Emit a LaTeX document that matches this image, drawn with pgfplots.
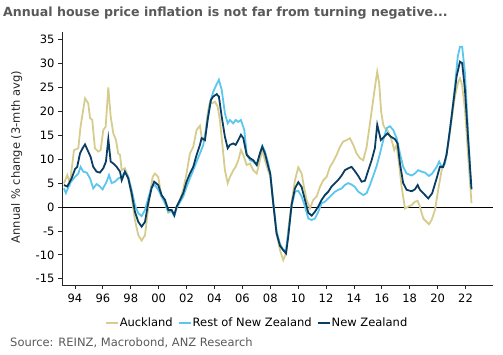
\documentclass[border=0pt]{standalone}
\usepackage{fontspec}
\setmainfont{DejaVu Sans}
\usepackage{pgfplots}
\pgfplotsset{compat=1.18}
\definecolor{akl}{HTML}{D6CC8E}
\definecolor{rnz}{HTML}{5BC6EE}
\definecolor{nz}{HTML}{0B3D63}
\definecolor{ttl}{HTML}{595959}
\begin{document}
\begin{tikzpicture}
\useasboundingbox (-62bp,-70bp) rectangle (441bp,285bp);
\begin{axis}[
  at={(0,0)}, anchor=south west,
  scale only axis, width=431bp, height=253bp,
  xmin=1993.07, xmax=2023.97, ymin=-16.3, ymax=36.6,
  axis x line=bottom, axis y line=left,
  axis line style={-, black!85, line width=0.8bp},
  tick align=outside, major tick length=4bp,
  tick style={black!85, line width=0.8bp},
  xtick={1994,1996,...,2022},
  xticklabels={94,96,98,00,02,04,06,08,10,12,14,16,18,20,22},
  xticklabel style={yshift=-1.5bp},
  ytick={-15,-10,...,35},
  /pgf/number format/assume math mode=true,
  ticklabel style={font=\fontsize{11.5bp}{13bp}\selectfont, text=black},
  legend columns=3,
  legend style={draw=none, fill=none, at={(axis description cs:0.451,-0.149)}, anchor=center,
    font=\fontsize{11.5bp}{13bp}\selectfont, inner sep=0pt,
    nodes={inner sep=0.6bp},
    /tikz/every even column/.append style={column sep=4.5bp}},
  legend image code/.code={\draw[#1] (0bp,0bp) -- (12.5bp,0bp);},
  legend cell align=left,
]
\addplot[black, line width=0.8bp, forget plot] coordinates {(1993.07,0) (2023.97,0)};
\addplot[akl, line width=1.8bp] coordinates {
(1993.21,4.96) (1993.45,6.7) (1993.64,5.0) (1993.93,11.9) (1994.24,12.3) (1994.40,16.8) (1994.72,22.7) (1994.95,21.7) (1995.08,18.6) (1995.24,18.2) (1995.43,12.3) (1995.67,11.6) (1995.84,11.9) (1996.03,16.1) (1996.20,16.8) (1996.39,25.0) (1996.56,18.9) (1996.75,15.4) (1996.94,14.0) (1997.10,11.2) (1997.23,10.9) (1997.35,7.7) (1997.58,8.1) (1997.82,6.3) (1998.06,2.2) (1998.30,-2.7) (1998.54,-5.9) (1998.78,-7.0) (1999.02,-5.9) (1999.18,-2.0) (1999.38,2.9) (1999.57,6.3) (1999.73,7.0) (1999.97,6.3) (2000.21,2.2) (2000.45,1.1) (2000.69,-1.2) (2000.93,-0.8) (2001.12,-1.7) (2001.29,0.0) (2001.53,1.5) (2001.76,3.6) (2002.00,7.0) (2002.24,11.2) (2002.48,12.6) (2002.72,16.1) (2002.96,17.0) (2003.12,14.0) (2003.32,14.7) (2003.51,19.6) (2003.68,22.0) (2003.84,21.7) (2004.04,22.0) (2004.23,21.0) (2004.39,18.2) (2004.56,13.3) (2004.75,7.7) (2004.95,5.0) (2005.11,6.3) (2005.35,7.7) (2005.52,8.4) (2005.71,9.8) (2005.90,11.9) (2006.07,10.9) (2006.31,8.8) (2006.55,9.1) (2006.78,7.7) (2007.03,7.0) (2007.26,9.8) (2007.43,11.9) (2007.62,9.8) (2007.86,7.5) (2008.00,6.5) (2008.20,1.0) (2008.45,-5.5) (2008.70,-9.0) (2008.93,-11.1) (2009.13,-9.7) (2009.29,-4.8) (2009.53,0.8) (2009.77,5.6) (2010.01,8.3) (2010.25,7.0) (2010.42,4.2) (2010.61,1.5) (2010.85,-0.3) (2011.08,1.5) (2011.33,2.2) (2011.56,4.2) (2011.80,5.6) (2012.04,6.3) (2012.28,8.4) (2012.52,9.5) (2012.76,10.9) (2013.00,12.6) (2013.23,13.7) (2013.48,14.0) (2013.71,14.4) (2013.95,13.0) (2014.19,11.2) (2014.43,10.2) (2014.67,9.8) (2014.91,12.6) (2015.15,17.5) (2015.38,22.4) (2015.58,26.6) (2015.67,28.3) (2015.81,25.9) (2015.95,20.0) (2016.10,17.2) (2016.22,16.5) (2016.46,15.8) (2016.70,14.0) (2016.89,11.9) (2017.06,13.0) (2017.23,9.1) (2017.42,4.2) (2017.66,-0.3) (2017.89,0.1) (2018.14,0.4) (2018.37,1.1) (2018.57,1.3) (2018.73,0.1) (2018.97,-2.4) (2019.21,-3.1) (2019.38,-3.6) (2019.57,-2.7) (2019.81,-0.6) (2020.04,3.6) (2020.29,7.7) (2020.52,9.1) (2020.76,13.3) (2021.00,18.2) (2021.24,23.1) (2021.48,26.2) (2021.60,26.9) (2021.76,25.5) (2021.96,20.3) (2022.19,10.5) (2022.43,0.8)
};
\addlegendentry{Auckland}
\addplot[rnz, line width=1.8bp] coordinates {
(1993.21,3.9) (1993.35,2.9) (1993.64,5.0) (1994.00,6.3) (1994.24,7.0) (1994.40,8.4) (1994.60,7.4) (1994.84,7.2) (1995.08,6.0) (1995.31,3.9) (1995.55,4.8) (1995.79,4.3) (1995.98,3.7) (1996.27,5.3) (1996.44,6.7) (1996.63,5.0) (1996.87,5.3) (1997.10,6.0) (1997.35,6.3) (1997.58,7.4) (1997.82,6.3) (1998.06,3.6) (1998.30,0.4) (1998.54,-1.3) (1998.78,-1.9) (1999.02,-0.6) (1999.25,1.8) (1999.49,4.2) (1999.73,4.6) (1999.97,3.6) (2000.21,2.2) (2000.45,0.8) (2000.69,-1.0) (2000.93,-0.8) (2001.12,-1.9) (2001.29,-0.2) (2001.53,1.0) (2001.76,2.2) (2002.00,4.2) (2002.24,6.0) (2002.48,7.7) (2002.72,9.5) (2002.96,11.2) (2003.20,13.0) (2003.44,16.8) (2003.68,21.7) (2003.91,24.1) (2004.16,25.7) (2004.32,26.6) (2004.52,24.5) (2004.75,19.6) (2004.95,17.5) (2005.11,18.2) (2005.35,17.5) (2005.52,18.2) (2005.71,17.8) (2005.90,18.2) (2006.14,16.1) (2006.31,11.2) (2006.55,9.8) (2006.78,9.5) (2007.03,8.8) (2007.26,11.2) (2007.43,12.8) (2007.62,11.6) (2007.86,9.1) (2008.00,7.0) (2008.20,1.5) (2008.45,-5.0) (2008.70,-7.7) (2008.93,-9.0) (2009.13,-9.0) (2009.29,-5.5) (2009.53,0.1) (2009.77,3.2) (2010.01,3.4) (2010.25,2.2) (2010.49,0.1) (2010.73,-2.4) (2010.97,-2.7) (2011.20,-2.4) (2011.44,-1.0) (2011.68,0.8) (2011.92,1.1) (2012.16,1.8) (2012.40,2.5) (2012.64,3.2) (2012.88,3.6) (2013.12,3.9) (2013.35,4.6) (2013.59,5.0) (2013.83,4.7) (2014.07,4.2) (2014.31,3.2) (2014.67,2.5) (2014.91,2.9) (2015.15,4.6) (2015.38,6.5) (2015.62,8.5) (2015.85,11.0) (2016.10,14.0) (2016.35,16.5) (2016.58,16.9) (2016.82,16.1) (2017.06,14.4) (2017.30,11.2) (2017.53,8.4) (2017.78,7.0) (2018.14,6.6) (2018.37,7.0) (2018.61,7.7) (2018.85,7.4) (2019.09,7.2) (2019.38,6.5) (2019.61,7.0) (2019.93,8.4) (2020.11,9.5) (2020.29,8.4) (2020.52,9.1) (2020.76,13.3) (2021.00,18.9) (2021.24,25.2) (2021.44,31.4) (2021.60,33.5) (2021.76,33.5) (2021.96,28.0) (2022.15,17.5) (2022.39,4.2)
};
\addlegendentry{Rest of New Zealand}
\addplot[nz, line width=1.8bp] coordinates {
(1993.21,4.6) (1993.45,4.3) (1993.76,6.0) (1994.00,7.9) (1994.16,8.4) (1994.36,11.2) (1994.55,12.3) (1994.72,13.1) (1994.95,11.6) (1995.12,10.5) (1995.31,8.4) (1995.55,7.4) (1995.79,7.2) (1996.03,8.1) (1996.22,9.5) (1996.39,14.2) (1996.56,9.5) (1996.75,9.1) (1996.99,8.4) (1997.23,7.4) (1997.35,5.6) (1997.58,7.4) (1997.82,6.0) (1998.06,2.9) (1998.30,-1.0) (1998.54,-3.1) (1998.78,-4.1) (1999.02,-3.1) (1999.25,0.8) (1999.49,3.9) (1999.68,5.3) (1999.97,4.6) (2000.21,2.5) (2000.45,1.5) (2000.69,-0.6) (2000.93,-0.6) (2001.12,-1.7) (2001.29,0.1) (2001.53,1.5) (2001.76,2.9) (2002.00,5.3) (2002.24,7.0) (2002.48,8.4) (2002.72,10.9) (2002.96,13.0) (2003.08,14.4) (2003.32,14.0) (2003.51,18.2) (2003.75,22.4) (2003.91,23.1) (2004.16,23.6) (2004.32,23.1) (2004.52,18.9) (2004.75,14.7) (2004.95,12.3) (2005.11,13.0) (2005.35,13.3) (2005.52,13.0) (2005.71,14.0) (2005.90,15.1) (2006.07,14.4) (2006.31,10.9) (2006.55,10.2) (2006.78,9.8) (2007.03,8.8) (2007.26,11.2) (2007.43,12.6) (2007.62,11.2) (2007.86,8.4) (2008.00,7.0) (2008.20,1.2) (2008.45,-5.5) (2008.70,-8.1) (2008.93,-9.0) (2009.13,-9.7) (2009.29,-6.2) (2009.53,0.5) (2009.77,3.9) (2010.01,5.2) (2010.25,4.2) (2010.49,1.5) (2010.73,-1.2) (2010.97,-1.8) (2011.20,-1.0) (2011.44,0.1) (2011.68,1.5) (2011.92,2.5) (2012.16,3.2) (2012.40,4.3) (2012.64,5.0) (2012.88,5.7) (2013.12,6.6) (2013.35,7.7) (2013.59,8.1) (2013.83,8.4) (2014.07,7.5) (2014.31,6.5) (2014.55,5.3) (2014.79,5.5) (2015.03,7.7) (2015.27,9.8) (2015.50,12.3) (2015.67,17.2) (2015.93,14.0) (2016.17,14.7) (2016.41,15.4) (2016.65,14.7) (2016.94,14.2) (2017.13,13.3) (2017.30,9.1) (2017.53,5.0) (2017.78,3.6) (2018.14,3.3) (2018.37,3.7) (2018.57,4.6) (2018.73,3.6) (2018.97,2.9) (2019.33,1.8) (2019.61,2.9) (2019.93,6.0) (2020.16,8.4) (2020.40,8.4) (2020.64,10.9) (2020.88,16.1) (2021.12,21.7) (2021.36,27.3) (2021.60,30.4) (2021.76,30.1) (2021.96,24.5) (2022.19,14.0) (2022.43,3.7)
};
\addlegendentry{New Zealand}
\end{axis}
\node[anchor=base west, inner sep=0pt, text=ttl, font=\fontsize{12.6bp}{14bp}\selectfont\bfseries] at (-59bp,268.5bp) {Annual house price inflation is not far from turning negative...};
\node[rotate=90, inner sep=0pt, text=black!85, font=\fontsize{11.5bp}{13bp}\selectfont] at (-45.3bp,128bp) {Annual \% change (3-mth avg)};
\node[anchor=base west, inner sep=0pt, text=ttl, font=\fontsize{11.5bp}{13bp}\selectfont] at (-52bp,-61.5bp) {Source: REINZ, Macrobond, ANZ Research};
\end{tikzpicture}
\end{document}
